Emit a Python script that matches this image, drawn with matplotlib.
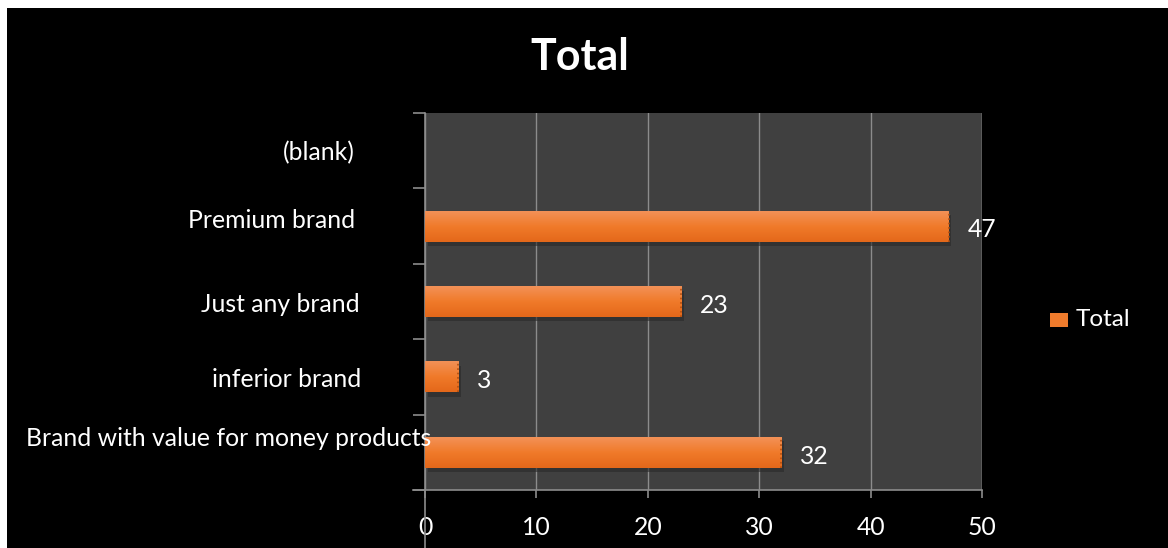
import numpy as np
import matplotlib
matplotlib.use("Agg")
import matplotlib.pyplot as plt
from matplotlib.patches import Rectangle
from matplotlib.colors import LinearSegmentedColormap

# ---- data ----
categories = ["Brand with value for money products", "inferior brand",
              "Just any brand", "Premium brand", "(blank)"]
values = [32, 3, 23, 47, None]
series_name = "Total"
x_ticks = [0, 10, 20, 30, 40, 50]

plt.rcParams['font.family'] = ['Lato', 'DejaVu Sans']

W, H = 1168, 548
fig = plt.figure(figsize=(W / 100, H / 100), dpi=100, facecolor='black')
# small white margin at top/left
fig.patches.append(Rectangle((0, 1 - 8 / H), 1, 8 / H, transform=fig.transFigure,
                             facecolor='white', edgecolor='none', zorder=-1))
fig.patches.append(Rectangle((0, 0), 7 / W, 1, transform=fig.transFigure,
                             facecolor='white', edgecolor='none', zorder=-1))

ax = fig.add_axes([425 / W, 1 - 490 / H, (982 - 425) / W, (490 - 113) / H])
ax.set_facecolor('#404040')

ypos = np.arange(len(categories))
vals = [v if v is not None else 0 for v in values]
bar_h = 0.41
bars = ax.barh(ypos, vals, height=bar_h, color='#EF7B2C', edgecolor='none', zorder=3)

FS = 17.8

# gradient fill + shadow
grad = LinearSegmentedColormap.from_list('g', ['#E4681A', '#F07A2A', '#F39157'])
for b, v in zip(bars, values):
    if v is None or v == 0:
        continue
    x0, y0 = b.get_x(), b.get_y()
    w, h = b.get_width(), b.get_height()
    ax.add_patch(Rectangle((x0 + 0.25, y0 - 0.06), w, h, facecolor='#2a2a2a',
                           alpha=0.6, edgecolor='none', zorder=2))
    img = np.linspace(0, 1, 50).reshape(-1, 1)
    ax.imshow(img, cmap=grad, aspect='auto', origin='lower',
              extent=(x0, x0 + w, y0, y0 + h), zorder=4)
    ax.plot([x0 + w, x0 + w], [y0, y0 + h], color='#B04E10', lw=1.2, ls=':', zorder=5)
    ax.text(v + 1.7, b.get_y() + h / 2 - 0.05, str(v), color='white', fontsize=FS,
            va='center', ha='left', zorder=6)

ax.set_xlim(0, 50)
ax.set_ylim(-0.5, len(categories) - 0.5)
ax.set_xticks(x_ticks)
ax.set_xticklabels([str(t) for t in x_ticks])
ax.grid(axis='x', color='#8C8C8C', lw=1.0, zorder=1)
ax.set_axisbelow(True)

ax.set_yticks(np.arange(-0.5, len(categories), 1.0))
ax.set_yticklabels([])
ax.tick_params(axis='y', direction='out', length=9, width=1.2, color='#8C8C8C')
ax.tick_params(axis='x', direction='out', length=6, width=1.2, color='#8C8C8C',
               labelcolor='white', labelsize=FS, pad=12.5)

for s in ['top', 'right']:
    ax.spines[s].set_visible(False)
for s in ['left', 'bottom']:
    ax.spines[s].set_color('#8C8C8C')
    ax.spines[s].set_linewidth(1.2)
ax.spines['bottom'].set_bounds(-1.1, 50)

# extended zero-line below the axis
ax.plot([0, 0], [-0.5, -0.5 - 58 / 75.4], color='#8C8C8C', lw=1.2, clip_on=False, zorder=1)

# right-side gray line at 50 (part of grid)
ax.axvline(50, color='#8C8C8C', lw=1.0, zorder=1)

# category labels
label_x = [431, 361, 360, 355, 355]
label_dy = [0.18, -0.04, -0.04, 0.08, -0.02]
for i, (c, lx, dy) in enumerate(zip(categories, label_x, label_dy)):
    ax.text((lx - 425) / (982 - 425), i + dy, c, transform=ax.get_yaxis_transform(),
            ha='right', va='center', color='white', fontsize=FS, zorder=6)

# title
fig.text(580 / W, 1 - 57 / H, series_name, ha='center', va='center', color='white',
         fontsize=31, fontweight='bold')

# legend
fig.patches.append(Rectangle((1050 / W, 1 - 327 / H), 18 / W, 14 / H, transform=fig.transFigure,
                             facecolor='#EF7B2C', edgecolor='none', zorder=3))
fig.text(1076 / W, 1 - 320 / H, series_name, ha='left', va='center', color='white',
         fontsize=17.5)

fig.savefig('out.png', dpi=100, facecolor=fig.get_facecolor())
